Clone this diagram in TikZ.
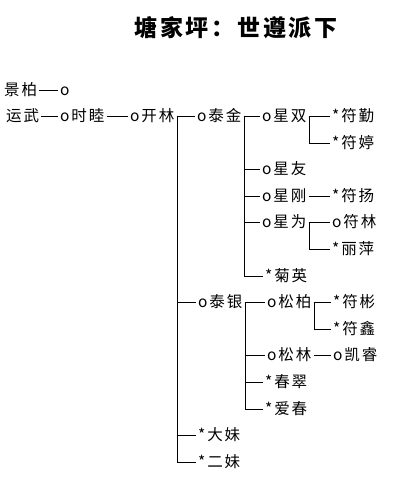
\documentclass[tikz,border=0pt]{standalone}
\usepackage{fontspec}
\newfontfamily\cjk[LetterSpace=12]{Noto Sans CJK SC}
\usepackage{tikz}
\usetikzlibrary{calc}

\tikzset{
  person/.style={anchor=west, inner xsep=2pt, inner ysep=0pt,
    text height=13.6pt, text depth=1.9pt,
    font=\cjk\fontsize{15.5}{16}\selectfont},
  link/.style={line width=0.8pt}
}

\begin{document}
\begin{tikzpicture}[x=1pt, y=-1pt]
  \useasboundingbox (0,0) rectangle (416,489);

  % Title
  \node (title) at (236,28) {\cjk\bfseries\fontsize{23}{24}\selectfont 塘家坪：世遵派下};

  % Define coordinates for nodes
  \node[person] (jingbai) at (2,90) {景柏};
  \node[person] (jbo) at (58,90) {o};
  \node[person] (yunwu) at (4,116) {运武};
  \node[person] (shimu) at (58,116) {o时睦};
  \node[person] (kailin) at (128,116) {o开林};
  \node[person] (taijin) at (195,116) {o泰金};
  \node[person] (xingshuang) at (260,116) {o星双};
  \node[person] (fuqin) at (330,116) {*符勤};
  \node[person] (futing) at (330,143) {*符婷};
  \node[person] (xingyou) at (260,169) {o星友};
  \node[person] (xinggang) at (260,196) {o星刚};
  \node[person] (fuyang) at (330,196) {*符扬};
  \node[person] (xingwei) at (260,222) {o星为};
  \node[person] (fulin) at (330,222) {o符林};
  \node[person] (liping) at (330,249) {*丽萍};
  \node[person] (juying) at (263,276) {*菊英};
  \node[person] (taiyin) at (196,302) {o泰银};
  \node[person] (songbai) at (265,302) {o松柏};
  \node[person] (fubin) at (331,302) {*符彬};
  \node[person] (fuxin) at (331,329) {*符鑫};
  \node[person] (songlin) at (265,355) {o松林};
  \node[person] (kairui) at (331,355) {o凯睿};
  \node[person] (chuncui) at (263,382) {*春翠};
  \node[person] (aichun) at (263,409) {*爱春};
  \node[person] (damei) at (196,435) {*大妹};
  \node[person] (ermei) at (196,462) {*二妹};

  % Bus points right after each parent
  \coordinate (kailinbus) at ($(kailin.east)+(1,0)$);
  \coordinate (taijinbus) at ($(taijin.east)+(1,0)$);
  \coordinate (xingshuangbus) at ($(xingshuang.east)+(1,0)$);
  \coordinate (xingweibus) at ($(xingwei.east)+(1,0)$);
  \coordinate (taiyinbus) at ($(taiyin.east)+(1,0)$);
  \coordinate (songbaibus) at ($(songbai.east)+(1,0)$);

  % Draw lines between nodes
  \draw[link] (jingbai) -- (jbo);
  \draw[link] (yunwu) -- (shimu);
  \draw[link] (shimu) -- (kailin);
  \draw[link] (kailin) -- (taijin);
  \draw[link] (taijin) -- (xingshuang);
  \draw[link] (xingshuang) -- (fuqin);
  \draw[link] (xinggang) -- (fuyang);
  \draw[link] (xingwei) -- (fulin);
  \draw[link] (taiyin) -- (songbai);
  \draw[link] (songbai) -- (fubin);
  \draw[link] (songlin) -- (kairui);

  \foreach \c in {taiyin,damei,ermei}
    \draw[link] (kailinbus) |- (\c);
  \foreach \c in {xingyou,xinggang,xingwei,juying}
    \draw[link] (taijinbus) |- (\c);
  \draw[link] (xingshuangbus) |- (futing);
  \draw[link] (xingweibus) |- (liping);
  \foreach \c in {songlin,chuncui,aichun}
    \draw[link] (taiyinbus) |- (\c);
  \draw[link] (songbaibus) |- (fuxin);
\end{tikzpicture}
\end{document}
